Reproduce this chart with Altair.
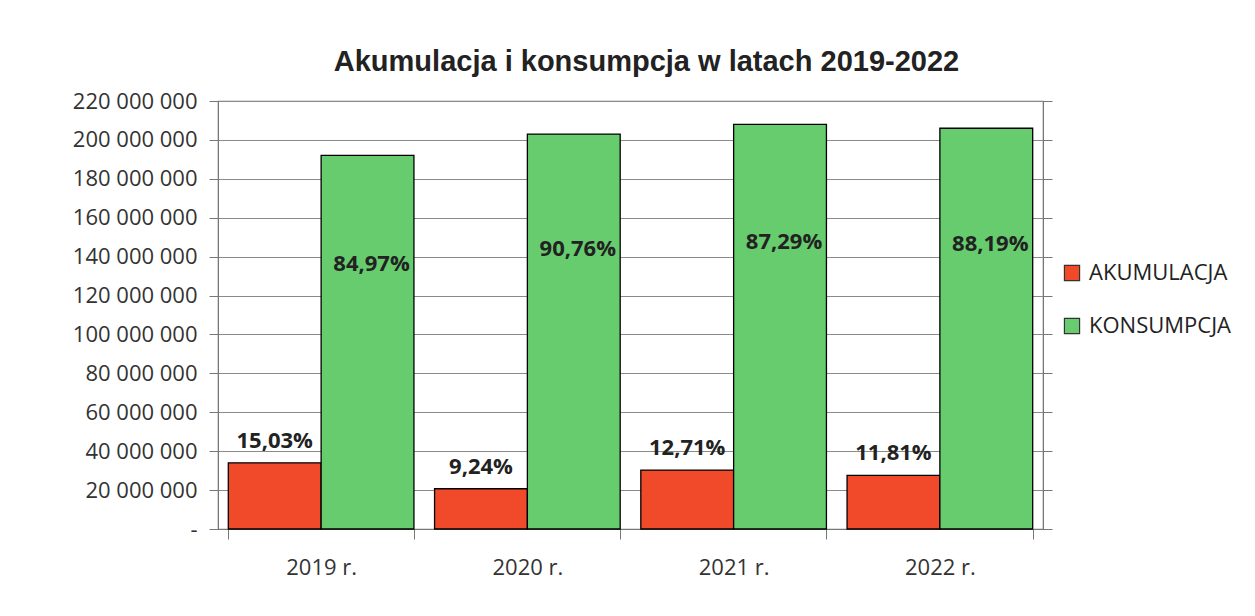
import altair as alt
import pandas as pd

years = ["2019 r.", "2020 r.", "2021 r.", "2022 r."]
series_names = ["AKUMULACJA", "KONSUMPCJA"]
akumulacja = [34.0e6, 20.7e6, 30.3e6, 27.6e6]
konsumpcja = [192.0e6, 203.0e6, 208.0e6, 206.0e6]
akum_pct = [0.1503, 0.0924, 0.1271, 0.1181]
kons_pct = [0.8497, 0.9076, 0.8729, 0.8819]
y_ticks = list(range(0, 220_000_001, 20_000_000))

rows = []
for i, y in enumerate(years):
    rows.append({"year": y, "series": series_names[0], "value": akumulacja[i], "pct": akum_pct[i]})
    rows.append({"year": y, "series": series_names[1], "value": konsumpcja[i], "pct": kons_pct[i]})
df = pd.DataFrame(rows)

RED = "#F04A2A"
GREEN = "#66CC6E"
FONT = "Open Sans"

yscale = alt.Scale(domain=[0, 220_000_000], nice=False)

base = alt.Chart(df).encode(
    x=alt.X(
        "year:N",
        sort=years,
        title=None,
        scale=alt.Scale(paddingInner=0.1, paddingOuter=0.05),
        axis=alt.Axis(
            labelAngle=0, labelFont=FONT, labelFontSize=22, labelColor="#333333",
            labelPadding=18, tickBand="extent", tickSize=10, tickColor="#777777",
            domainColor="#777777", grid=False,
        ),
    ),
    xOffset=alt.XOffset("series:N", sort=series_names, scale=alt.Scale(paddingInner=0, paddingOuter=0)),
)

bars = base.mark_bar(stroke="black", strokeWidth=1.3).encode(
    y=alt.Y(
        "value:Q", scale=yscale, title=None,
        axis=alt.Axis(
            values=y_ticks, format=",d",
            labelExpr="datum.value == 0 ? '-' : datum.label",
            labelFont=FONT, labelFontSize=22, labelColor="#333333", labelPadding=12,
            tickSize=9, tickColor="#777777", domainColor="#777777",
            gridColor="#8a8a8a", gridWidth=1.2, orient="left",
        ),
    ),
    color=alt.Color(
        "series:N",
        scale=alt.Scale(domain=series_names, range=[RED, GREEN]),
        legend=alt.Legend(
            title=None, orient="none", legendX=843, legendY=161,
            symbolType="square", symbolSize=230, symbolStrokeColor="#333333",
            symbolStrokeWidth=1.2, labelFont=FONT, labelFontSize=22,
            labelColor="#222222", rowPadding=31, labelOffset=6,
        ),
    ),
)

labels_a = base.transform_filter(alt.datum.series == "AKUMULACJA").mark_text(
    baseline="bottom", dy=-10, font=FONT, fontSize=22, fontWeight="bold", color="#222222"
).encode(
    y=alt.Y("value:Q", scale=yscale, axis=None),
    text=alt.Text("pct:Q", format=".2%"),
)

labels_k = base.transform_filter(alt.datum.series == "KONSUMPCJA").transform_calculate(
    lp="datum.value * 0.71"
).mark_text(
    baseline="middle", dx=4, font=FONT, fontSize=22, fontWeight="bold", color="#222222"
).encode(
    y=alt.Y(
        "lp:Q", scale=yscale, title=None,
        axis=alt.Axis(values=y_ticks, labels=False, grid=False, orient="right",
                      tickSize=9, tickColor="#777777", domainColor="#777777"),
    ),
    text=alt.Text("pct:Q", format=".2%"),
)

chart = alt.layer(bars, labels_a, labels_k).resolve_axis(y="independent").properties(
    width=825, height=428,
    title=alt.Title("Akumulacja i konsumpcja w latach 2019-2022", font="Liberation Sans",
                    fontSize=29, fontWeight="bold", color="#222222", offset=13,
                    anchor="middle", dx=16),
    padding={"left": 64, "top": 40, "right": 10, "bottom": 5},
).configure(
    locale={"number": {"decimal": ",", "thousands": "\u00a0", "grouping": [3], "currency": ["", " zł"]}},
).configure_view(stroke="#777777", strokeWidth=1.2)

chart.save("out.html", embed_options={"renderer": "svg", "actions": False})
